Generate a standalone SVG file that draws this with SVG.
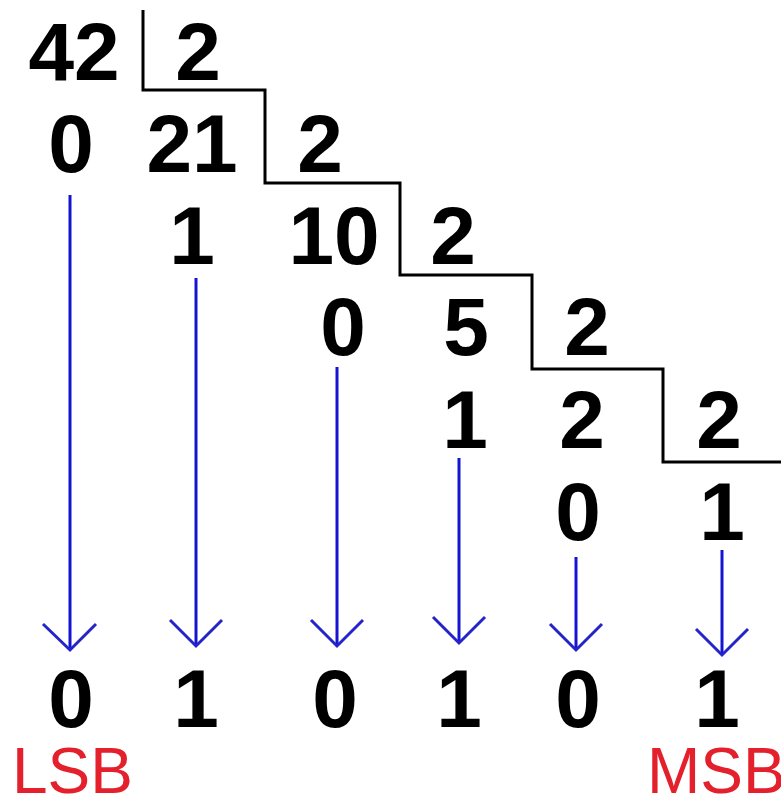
<svg xmlns="http://www.w3.org/2000/svg" width="781" height="797" viewBox="0 0 781 797">
  <style>
    .num { font-family: "Liberation Sans", Arial, sans-serif; font-weight: bold; font-size: 82px; fill: #000; text-anchor: middle; }
    .tag { font-family: "Liberation Sans", Arial, sans-serif; font-size: 64px; fill: #e3202c; }
    .bracket { fill: none; stroke: #000; stroke-width: 3; }
    .shaft { stroke: #1414d2; stroke-width: 3; fill: none; }
    .head { stroke: #2424c8; stroke-width: 3; fill: none; }
  </style>
  <rect width="781" height="797" fill="#fff"/>

  <!-- staircase of division brackets -->
  <path id="brackets" class="bracket" d="M143,10 V90 H265 V183 H400 V275 H532 V369 H663 V462 H781"/>

  <!-- repeated division by 2: dividend, divisor, remainder rows -->
  <g id="row1">
    <text class="num" x="74" y="80">42</text>
    <text class="num" x="198" y="80">2</text>
  </g>
  <g id="row2">
    <text class="num" x="71" y="172">0</text>
    <text class="num" x="192" y="172">21</text>
    <text class="num" x="320" y="172">2</text>
  </g>
  <g id="row3">
    <text class="num" x="192" y="264">1</text>
    <text class="num" x="334" y="264">10</text>
    <text class="num" x="453" y="264">2</text>
  </g>
  <g id="row4">
    <text class="num" x="343" y="355">0</text>
    <text class="num" x="466" y="355">5</text>
    <text class="num" x="587" y="355">2</text>
  </g>
  <g id="row5">
    <text class="num" x="465" y="448">1</text>
    <text class="num" x="582" y="448">2</text>
    <text class="num" x="719" y="448">2</text>
  </g>
  <g id="row6">
    <text class="num" x="578" y="540">0</text>
    <text class="num" x="722" y="540">1</text>
  </g>

  <!-- remainders collected into the binary result -->
  <g id="connectors">
    <path class="shaft" d="M70,195 V650"/>
    <path class="head" d="M43,624 L70,650 L96,624"/>
    <path class="shaft" d="M196,278 V646"/>
    <path class="head" d="M170,620 L196,646 L222,620"/>
    <path class="shaft" d="M337,367 V646"/>
    <path class="head" d="M311,620 L337,646 L363,620"/>
    <path class="shaft" d="M459,458 V643"/>
    <path class="head" d="M433,617 L459,643 L485,617"/>
    <path class="shaft" d="M576,557 V650"/>
    <path class="head" d="M550,624 L576,650 L602,624"/>
    <path class="shaft" d="M722,550 V655"/>
    <path class="head" d="M696,629 L722,655 L748,629"/>
  </g>

  <g id="result">
    <text class="num" x="71" y="727">0</text>
    <text class="num" x="196" y="727">1</text>
    <text class="num" x="335" y="727">0</text>
    <text class="num" x="459" y="727">1</text>
    <text class="num" x="578" y="727">0</text>
    <text class="num" x="717" y="727">1</text>
  </g>

  <g id="lsb"><text class="tag" x="12" y="793">LSB</text></g>
  <g id="msb"><text class="tag" x="647" y="793">MSB</text></g>
</svg>
